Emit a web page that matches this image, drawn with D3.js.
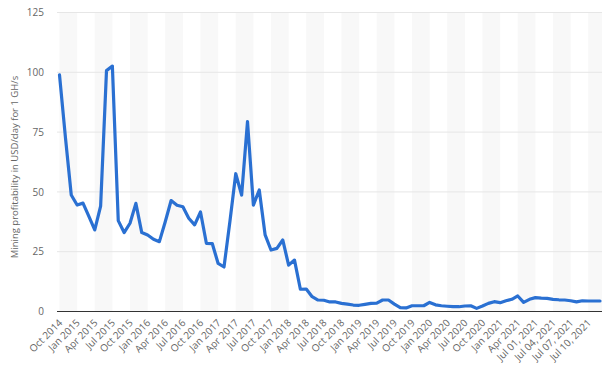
<!DOCTYPE html>
<html>
<head>
<meta charset="utf-8">
<script src="https://cdn.jsdelivr.net/npm/d3@7/dist/d3.min.js"></script>
<style>
  html, body { margin: 0; padding: 0; background: #fff; }
  svg { display: block; font-family: "Open Sans", "DejaVu Sans", sans-serif; }
</style>
</head>
<body>
<svg id="chart" width="608" height="372"></svg>
<script>
const categories = [
  "Oct 2014","Nov 2014","Dec 2014","Jan 2015","Feb 2015","Mar 2015","Apr 2015","May 2015","Jun 2015",
  "Jul 2015","Aug 2015","Sep 2015","Oct 2015","Nov 2015","Dec 2015","Jan 2016","Feb 2016","Mar 2016",
  "Apr 2016","May 2016","Jun 2016","Jul 2016","Aug 2016","Sep 2016","Oct 2016","Nov 2016","Dec 2016",
  "Jan 2017","Feb 2017","Mar 2017","Apr 2017","May 2017","Jun 2017","Jul 2017","Aug 2017","Sep 2017",
  "Oct 2017","Nov 2017","Dec 2017","Jan 2018","Feb 2018","Mar 2018","Apr 2018","May 2018","Jun 2018",
  "Jul 2018","Aug 2018","Sep 2018","Oct 2018","Nov 2018","Dec 2018","Jan 2019","Feb 2019","Mar 2019",
  "Apr 2019","May 2019","Jun 2019","Jul 2019","Aug 2019","Sep 2019","Oct 2019","Nov 2019","Dec 2019",
  "Jan 2020","Feb 2020","Mar 2020","Apr 2020","May 2020","Jun 2020","Jul 2020","Aug 2020","Sep 2020",
  "Oct 2020","Nov 2020","Dec 2020","Jan 2021","Feb 2021","Mar 2021","Apr 2021","May 2021","Jun 2021",
  "Jul 01, 2021","Jul 02, 2021","Jul 03, 2021","Jul 04, 2021","Jul 05, 2021","Jul 06, 2021",
  "Jul 07, 2021","Jul 08, 2021","Jul 09, 2021","Jul 10, 2021","Jul 11, 2021","Jul 12, 2021"
];

const profitability = [
  98.9, 73.0, 48.7, 44.5, 45.3, 39.8, 34.1, 44.1, 100.7,
  102.6, 38.0, 33.0, 36.9, 45.2, 33.0, 32.0, 30.2, 29.2,
  37.5, 46.4, 44.4, 43.8, 39.0, 36.2, 41.6, 28.5, 28.4,
  20.1, 18.6, 37.5, 57.6, 48.7, 79.4, 44.5, 50.8, 32.0,
  25.7, 26.4, 29.9, 19.4, 21.5, 9.3, 9.4, 6.2, 4.8,
  4.7, 4.0, 4.0, 3.4, 3.1, 2.7, 2.6, 3.0, 3.4,
  3.5, 4.8, 4.8, 3.1, 1.6, 1.5, 2.4, 2.4, 2.4,
  3.8, 2.8, 2.4, 2.2, 2.0, 2.0, 2.3, 2.4, 1.3,
  2.3, 3.4, 4.1, 3.7, 4.5, 5.1, 6.5, 3.8, 5.1,
  5.8, 5.6, 5.5, 5.1, 4.9, 4.8,
  4.5, 4.0, 4.5, 4.4, 4.4, 4.4
];

const tickLabels = [
  "Oct 2014","Jan 2015","Apr 2015","Jul 2015","Oct 2015","Jan 2016","Apr 2016","Jul 2016",
  "Oct 2016","Jan 2017","Apr 2017","Jul 2017","Oct 2017","Jan 2018","Apr 2018","Jul 2018",
  "Oct 2018","Jan 2019","Apr 2019","Jul 2019","Oct 2019","Jan 2020","Apr 2020","Jul 2020",
  "Oct 2020","Jan 2021","Apr 2021","Jul 01, 2021","Jul 04, 2021","Jul 07, 2021","Jul 10, 2021"
];

const yTicks = [0, 25, 50, 75, 100, 125];
const yTitle = "Mining profitability in USD/day for 1 GH/s";

const svg = d3.select("#chart");
const plotLeft = 57, plotRight = 602;

const x = d3.scalePoint().domain(categories).range([59.5, 600]);
const y = d3.scaleLinear().domain([0, 125]).range([311.5, 12.5]);

// alternating bands between labelled ticks
const bandG = svg.append("g");
for (let i = 0; i < tickLabels.length; i += 2) {
  const a = x(tickLabels[i]);
  const next = tickLabels[i + 1];
  const b = next ? x(next) : plotRight;
  bandG.append("rect")
    .attr("x", a).attr("y", y(125))
    .attr("width", Math.min(b, plotRight) - a)
    .attr("height", y(0) - y(125))
    .attr("fill", "#f8f8f8");
}

// horizontal gridlines
svg.append("g").selectAll("line").data(yTicks.filter(d => d > 0)).join("line")
  .attr("x1", plotLeft).attr("x2", plotRight)
  .attr("y1", d => y(d)).attr("y2", d => y(d))
  .attr("stroke", "#e6e6e6").attr("stroke-width", 1);

// y axis labels
const yAxis = d3.axisLeft(y).tickValues(yTicks).tickSize(0).tickPadding(0);
const yg = svg.append("g").attr("transform", "translate(44,0)").call(yAxis);
yg.select(".domain").remove();
yg.selectAll("text").attr("font-size", 10).attr("fill", "#666").attr("font-family", "Open Sans, sans-serif");

// y title
svg.append("text")
  .attr("transform", `translate(18,${(y(0) + y(125)) / 2 + 5}) rotate(-90)`)
  .attr("text-anchor", "middle")
  .attr("font-size", 9.5)
  .attr("fill", "#666")
  .text(yTitle);

// x axis labels
const xAxis = d3.axisBottom(x).tickValues(tickLabels).tickSize(0).tickPadding(0);
const xg = svg.append("g").attr("transform", `translate(0,${y(0)})`).call(xAxis);
xg.select(".domain").remove();
xg.selectAll("text")
  .attr("font-size", 10).attr("fill", "#666").attr("font-family", "Open Sans, sans-serif")
  .attr("text-anchor", "end")
  .attr("dy", null).attr("y", null)
  .attr("transform", "translate(3,12) rotate(-45)");

// baseline
svg.append("line")
  .attr("x1", plotLeft).attr("x2", plotRight)
  .attr("y1", y(0)).attr("y2", y(0))
  .attr("stroke", "#333").attr("stroke-width", 1.2);

// line
const line = d3.line().x((d, i) => x(categories[i])).y(d => y(d));
svg.append("path")
  .datum(profitability)
  .attr("d", line)
  .attr("fill", "none")
  .attr("stroke", "#2a70d2")
  .attr("stroke-width", 3.2)
  .attr("stroke-linejoin", "round")
  .attr("stroke-linecap", "round");
</script>
</body>
</html>
